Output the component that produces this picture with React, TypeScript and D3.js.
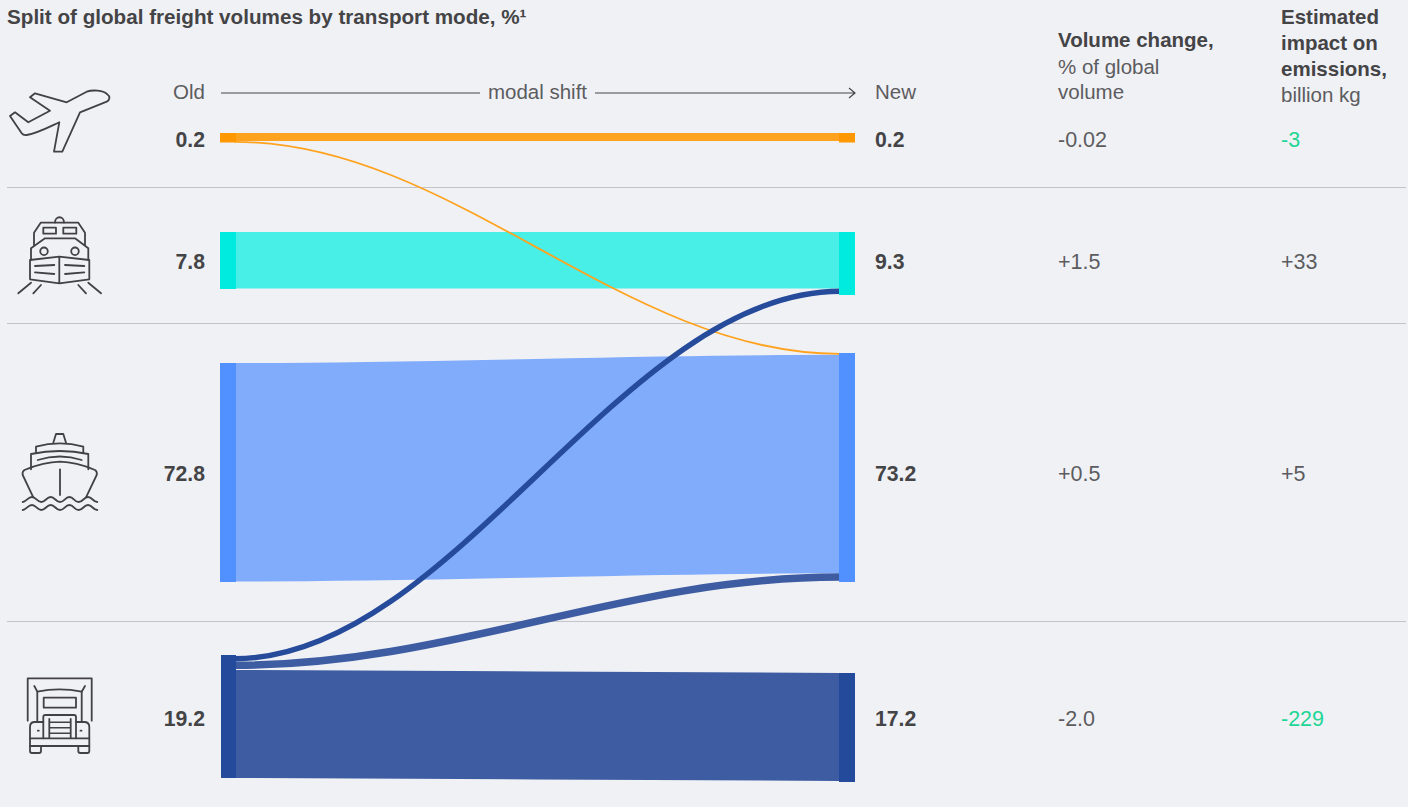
import React from "react";
import * as d3 from "d3";

// ---- Data -------------------------------------------------------------
const modes = ["air", "rail", "ship", "truck"];
const oldShare = [0.2, 7.8, 72.8, 19.2];
const newShare = [0.2, 9.3, 73.2, 17.2];
const volumeChange = ["-0.02", "+1.5", "+0.5", "-2.0"];
const emissionImpact = ["-3", "+33", "+5", "-229"];
const flowKeys = ["air-air", "rail-rail", "ship-ship", "truck-truck", "air-ship", "truck-ship", "truck-rail"];
const flowShare = [0.18, 7.8, 72.8, 17.2, 0.02, 0.5, 1.5];

// ---- Layout and style --------------------------------------------------
const W = 1408;
const H = 807;
const FONT = "'Liberation Sans', Helvetica, Arial, sans-serif";
const INK = "#444446";
const SOFT = "#5c5c5f";
const GREEN = "#1ed696";
const BG = "#f0f1f5";

const nodeWidth = 16;
const leftX = 220;
const rightX = 839;

const nodeColor = d3.scaleOrdinal<string, string>(modes, ["#ff9800", "#00ebe0", "#5090ff", "#234a9b"]);
const flowColor = d3.scaleOrdinal<string, string>(flowKeys, [
  "#ffa31f", "#47efe6", "#80acfb", "#3d5ca2", "#ffa31f", "#3d5ca2", "#264b9b",
]);

// The bands are drawn on a compressed axis so the small modes stay legible.
const bandHeight = d3
  .scaleLinear()
  .domain([0, 0.2, 7.8, 9.3, 17.2, 19.2, 72.8, 73.2])
  .range([0, 9.5, 57, 63, 109, 123, 219, 229]);
const flowThickness = d3.scaleOrdinal<string, number>(flowKeys, [8, 56.5, 218.5, 108, 1.8, 7.5, 5.5]);

const leftTop = d3.scaleOrdinal<string, number>(modes, [133, 232, 363, 655]);
const rightTop = d3.scaleOrdinal<string, number>(modes, [133, 232, 353, 673]);
const rowBaseline = d3.scaleOrdinal<string, number>(modes, [146.5, 268.5, 480.5, 726]);
const dividers = [187.5, 323.5, 621.5];

// Outgoing bands stack down the source node in this order, incoming down the target.
const sourceOrder = ["air-air", "air-ship", "rail-rail", "ship-ship", "truck-rail", "truck-ship", "truck-truck"];
const targetOrder = ["air-air", "rail-rail", "truck-rail", "air-ship", "ship-ship", "truck-ship", "truck-truck"];

function stackOffsets(order: string[], side: 0 | 1, top: (m: string) => number) {
  const cursor = new Map<string, number>();
  const out = new Map<string, [number, number]>();
  for (const key of order) {
    const mode = key.split("-")[side];
    let y = cursor.get(mode) ?? top(mode);
    // The truck column starts just under its node edge and leaves a hairline before the main band.
    if (side === 0 && mode === "truck") {
      if (key === "truck-rail") y += 1;
      if (key === "truck-truck") y += 1;
    }
    const t = flowThickness(key);
    out.set(key, [y, y + t]);
    cursor.set(mode, y + t);
  }
  return out;
}

const sourceBand = stackOffsets(sourceOrder, 0, (m) => leftTop(m));
const targetBand = stackOffsets(targetOrder, 1, (m) => rightTop(m));

// Sankey ribbon centre line with a gentler bend than d3.linkHorizontal's midpoint handles.
const CURVATURE = 0.36;
function ribbon(x0: number, y0: number, x1: number, y1: number) {
  const p = d3.path();
  const dx = (x1 - x0) * CURVATURE;
  p.moveTo(x0, y0);
  p.bezierCurveTo(x0 + dx, y0, x1 - dx, y1, x1, y1);
  return p.toString();
}

const mid = (b: [number, number]) => (b[0] + b[1]) / 2;

// ---- Pictograms ---------------------------------------------------------
const iconStyle = { fill: "none", stroke: "#424245", strokeWidth: 1.8, strokeLinejoin: "round" as const, strokeLinecap: "round" as const };

const Plane = () => (
  <g {...iconStyle}>
    <path d="M106.7 101.7 C110 100 110.5 96.5 107 94 C103 90.5 93 89.5 86.7 91.7 L66.7 102.3 L35 93.3 L30 97.3 L50 110.7 L28.3 122.3 L15 112.3 L10 116 L21.7 133.3 C23 135 25 135.3 26.7 135 C37 133.5 49 127 59.3 122.3 L54 151.7 L62.3 151.7 L80 112.3 Z" />
  </g>
);

const Train = () => (
  <g {...iconStyle}>
    <path d="M34 245 V232.7 L40.7 222.7 H78.3 L85 232.7 V245" />
    <path d="M55 222.5 C55 215.5 64 215.5 64 222.5" />
    <rect x={43.3} y={227.7} width={12.7} height={6} />
    <rect x={63.3} y={227.7} width={13} height={6} />
    <path d="M31 260 V248.3 L45 238.3 H75 L88.3 248.3 V260" />
    <circle cx={44} cy={251.3} r={3.8} />
    <circle cx={75} cy={251.3} r={3.8} />
    <path d="M30 260 L59.3 256.7 L89.3 260 V279.3 L59.3 283.3 L30 279.3 Z M59.3 256.7 V283.3" />
    <path d="M35 266 L54.3 265 M35 272.3 L54.3 274 M65 265 L84.3 266 M65 274 L84.3 272.3" />
    <path d="M18.3 293.3 L31 282.7 M33.3 293.3 L41 285 M78.3 285 L86 293.3 M88.3 282.7 L101 293.3" />
  </g>
);

const WAVE = "M22.7 502 C26 502 28 497 32 497 S37 502 41.3 502 S46.4 497 50.7 497 S55.7 502 60 502 S65 497 69.4 497 S74.4 502 78.7 502 S83.7 497 88 497 S93 502 97.3 502";

const Ship = () => (
  <g {...iconStyle}>
    <path d="M53.3 442.7 L56 434 H63.3 L66 442.7" />
    <path d="M36 452.3 V446.7 Q60 440 83.3 446.7 V452.3" />
    <path d="M31 469.3 V454 Q60 448 88.3 454 V469.3" />
    <path d="M37.7 460 Q60 453 81.7 460" />
    <path d="M33.3 497.3 L22.7 475 Q22 471.5 24.5 470 Q44 462 60 461.7 Q76 462 95 470 Q97.5 471.5 96.7 475 L86 497.3" />
    <path d="M60 469.3 V495" />
    <path d={WAVE} />
    <path d={WAVE} transform="translate(0 8)" />
  </g>
);

const Truck = () => (
  <g {...iconStyle}>
    <path d="M27.7 720.7 V678.3 H91.7 V720.7" />
    <path d="M34.3 686 L37.3 691.7 Q59.3 687 81.7 691.7 L85 686" />
    <path d="M37.3 691.7 V721.5 M81.7 691.7 V721.5" />
    <rect x={43.7} y={697.7} width={32.3} height={10} />
    <path d="M43.3 738.3 V717 Q43.3 715 45.3 715 H74 Q76 715 76 717 V738.3" />
    <path d="M49.3 719 V738 M70.7 719 V738" />
    <path d="M49.8 722.3 H70.2 M49.8 727.7 H70.2 M49.8 733.3 H70.2" strokeWidth={1.4} />
    <path d="M43.3 722 H34 Q30 722.5 30 727 V746 H89.3 V727 Q89.3 722.5 85 722 H76" />
    <path d="M30 738.3 H89.3" />
    <path d="M30 746 V751 Q30 753 32 753 H39 Q41 753 41 751 V746 M78.3 746 V751 Q78.3 753 80.3 753 H87.3 Q89.3 753 89.3 751 V746" />
    <path d="M37.8 730.7 H38.8 M80.5 730.7 H81.5" />
  </g>
);

const icons = [<Plane key="air" />, <Train key="rail" />, <Ship key="ship" />, <Truck key="truck" />];

export default function App() {
  const text = { fontFamily: FONT, fontSize: 20.5 };
  const strong = { ...text, fontWeight: 700, fill: INK };
  const light = { ...text, fill: SOFT };
  const rowStrong = { ...strong, fontSize: 21.2 };
  const rowLight = { ...light, fontSize: 21.5 };

  return (
    <svg
      width={W}
      height={H}
      viewBox={`0 0 ${W} ${H}`}
      style={{ position: "absolute", left: 0, top: 0, display: "block", background: BG }}
    >
      {/* Row dividers */}
      {dividers.map((y) => (
        <line key={y} x1={7} x2={1406} y1={y} y2={y} stroke="#c3c4c8" strokeWidth={1} />
      ))}

      {/* Title and column headings */}
      <text x={7} y={24} style={{ ...strong, fontSize: 20.65 }}>
        Split of global freight volumes by transport mode, %¹
      </text>
      <text x={1058} y={47} style={strong}>Volume change,</text>
      <text x={1058} y={74} style={light}>% of global</text>
      <text x={1058} y={99} style={light}>volume</text>
      <text x={1281} y={24} style={strong}>Estimated</text>
      <text x={1281} y={50} style={strong}>impact on</text>
      <text x={1281} y={76} style={strong}>emissions,</text>
      <text x={1281} y={102} style={light}>billion kg</text>

      {/* Old -> New header with the modal shift arrow */}
      <text x={205} y={99} textAnchor="end" style={light}>Old</text>
      <text x={875} y={99} style={light}>New</text>
      <text x={537.5} y={99} textAnchor="middle" style={light}>modal shift</text>
      <g stroke="#47474a" strokeWidth={1.2} fill="none">
        <path d="M221 93 H480" />
        <path d="M595 93 H855 M849 88 L855 93 L849 98" />
      </g>

      {/* Pictograms */}
      {icons}

      {/* Flows between the two node columns */}
      <g fill="none">
        {flowKeys.map((key, i) => {
          const s = sourceBand.get(key)!;
          const t = targetBand.get(key)!;
          return (
            <path
              key={key}
              d={ribbon(leftX + nodeWidth - 1, mid(s), rightX + 1, mid(t))}
              stroke={flowColor(key)}
              strokeWidth={flowThickness(key)}
            >
              <title>{`${key}: ${flowShare[i]}%`}</title>
            </path>
          );
        })}
      </g>

      {/* Nodes */}
      {modes.map((m, i) => (
        <g key={m} fill={nodeColor(m)}>
          <rect
            x={m === "truck" ? leftX + 1 : leftX}
            y={leftTop(m)}
            width={m === "truck" ? nodeWidth - 1 : nodeWidth}
            height={bandHeight(oldShare[i])}
          />
          <rect x={rightX} y={rightTop(m)} width={nodeWidth} height={bandHeight(newShare[i])} />
        </g>
      ))}

      {/* Row values */}
      {modes.map((m, i) => {
        const y = rowBaseline(m);
        const isSaving = (v: string) => v.startsWith("-");
        return (
          <g key={m}>
            <text x={205} y={y} textAnchor="end" style={rowStrong}>{oldShare[i].toFixed(1)}</text>
            <text x={875} y={y} style={rowStrong}>{newShare[i].toFixed(1)}</text>
            <text x={1058} y={y} style={rowLight}>{volumeChange[i]}</text>
            <text x={1281} y={y} style={{ ...rowLight, fill: isSaving(emissionImpact[i]) ? GREEN : SOFT }}>
              {emissionImpact[i]}
            </text>
          </g>
        );
      })}
    </svg>
  );
}
